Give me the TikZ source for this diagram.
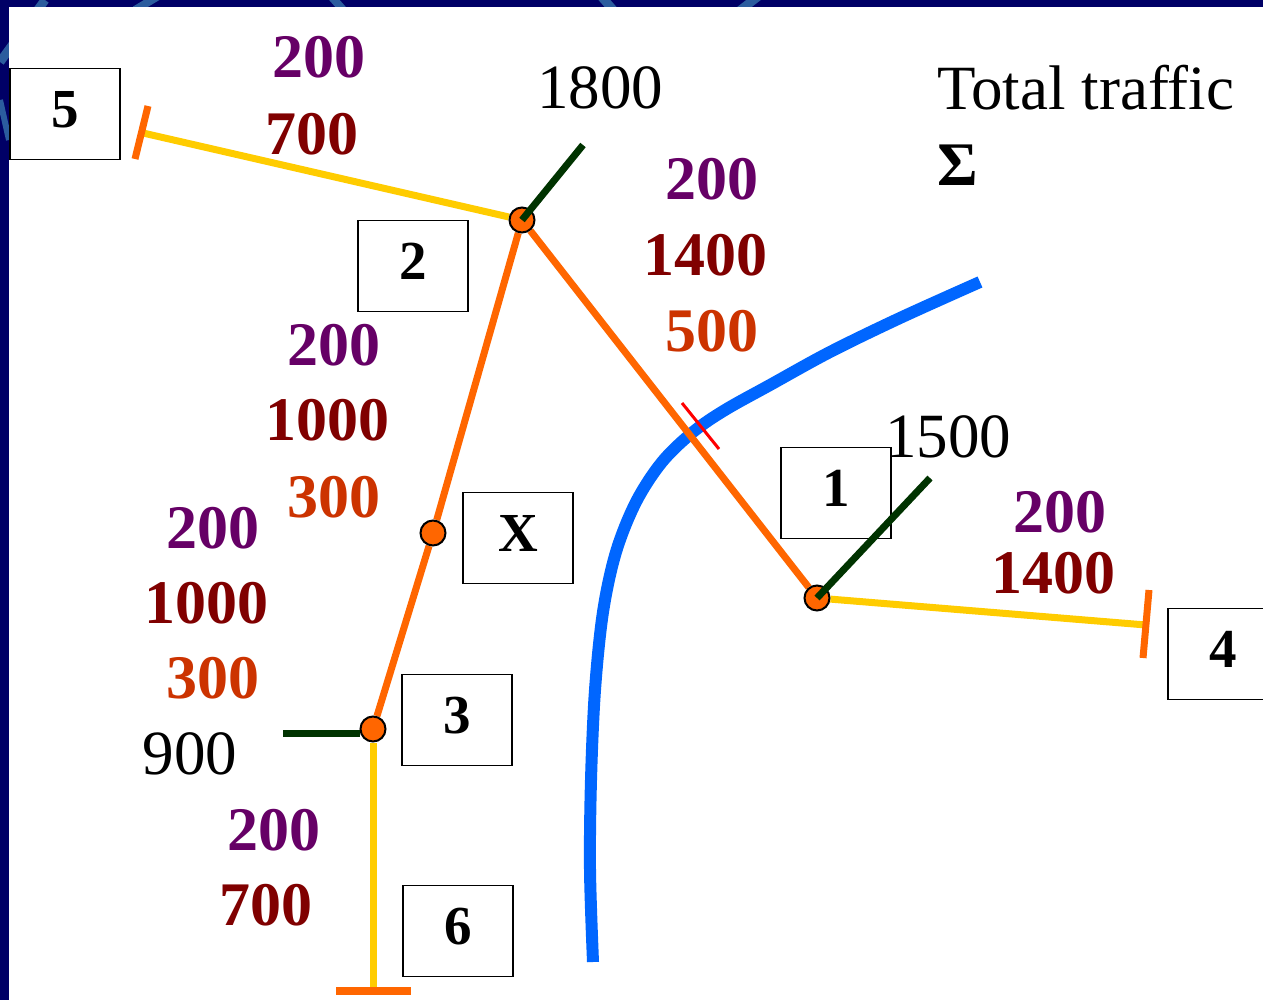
\documentclass[tikz,border=0pt]{standalone}
\usepackage{fontspec}
\setmainfont{Liberation Serif}
\pgfdeclarelayer{frame}
\pgfdeclarelayer{bg}
\pgfsetlayers{frame,bg,main}
\definecolor{navy}{HTML}{000066}
\definecolor{swirl}{HTML}{2B5C9E}
\definecolor{roadorange}{HTML}{FF6600}
\definecolor{roadyellow}{HTML}{FFCC00}
\definecolor{riverblue}{HTML}{0066FF}
\definecolor{feedgreen}{HTML}{003300}
\definecolor{numpurple}{HTML}{660066}
\definecolor{numdarkred}{HTML}{800000}
\definecolor{numorange}{HTML}{CC3300}
\begin{document}
\begin{tikzpicture}[x=1pt,y=-1pt,
  junc/.style={circle,fill=roadorange,draw=black,line width=2,minimum size=25,inner sep=0},
  zonebox/.style={draw=black,line width=1.5,minimum width=110,minimum height=91,inner sep=0,text depth=10pt,font=\fontsize{55}{60}\selectfont\bfseries},
  mainroad/.style={roadorange,line width=7},
  sideroad/.style={roadyellow,line width=7},
  endtick/.style={roadorange,line width=7},
  feeder/.style={feedgreen,line width=7},
  bignum/.style={inner sep=0,font=\fontsize{62}{70}\selectfont\bfseries},
  plainnum/.style={inner sep=0,font=\fontsize{63}{70}\selectfont},
  pnum/.style={bignum,text=numpurple},
  rnum/.style={bignum,text=numdarkred},
  onum/.style={bignum,text=numorange}]
\useasboundingbox (0,0) rectangle (1263,1000);
\clip (0,0) rectangle (1263,1000);

% junctions
\node[junc] (a) at (522,220) {};
\node[junc] (x) at (433,533) {};
\node[junc] (c) at (373,729) {};
\node[junc] (d) at (817,598) {};

% free ends
\coordinate (e5) at (143,133);
\coordinate (e4) at (1146,625);
\coordinate (e6) at (373,990);
\coordinate (g2) at (583,145);
\coordinate (g1) at (930,478);
\coordinate (g3) at (283,733);

% zone boxes
\node[zonebox] (b5) at (65,114) {5};
\node[zonebox] (b2) at (413,266) {2};
\node[zonebox] (bx) at (518,538) {X};
\node[zonebox] (b1) at (836,493) {1};
\node[zonebox] (b4) at (1223,654) {4};
\node[zonebox] (b3) at (457,720) {3};
\node[zonebox] (b6) at (458,931) {6};

\begin{pgfonlayer}{frame}
\fill[navy] (0,0) rectangle (1263,1000);
\begin{scope}
\clip (0,0) rectangle (1263,7) (0,0) rectangle (9,1000);
\draw[swirl,line width=9] (0,62) -- (45,0);
\draw[swirl,line width=8] (135,10) -- (160,-5);
\draw[swirl,line width=8] (330,-5) -- (345,12);
\draw[swirl,line width=9] (600,-5) -- (615,12);
\draw[swirl,line width=9] (760,-5) -- (738,12);
\draw[swirl,line width=6] (0,100) -- (9,140);
\end{scope}
\fill[white] (9,7) rectangle (1263,1000);
\end{pgfonlayer}

\begin{pgfonlayer}{bg}
% river
\draw[riverblue,line width=12] plot[smooth,tension=0.55] coordinates
  {(980,282) (900,318) (830,352) (770,385) (725,410) (693,432) (662,462) (636,502)
   (616,552) (603,612) (595,690) (591,780) (590,870) (593,962)};
% roads
\draw[sideroad] (a) -- (e5);
\draw[mainroad] (a) -- (x);
\draw[mainroad] (x) -- (c);
\draw[mainroad] (a) -- (d);
\draw[sideroad] (d) -- (e4);
\draw[sideroad] (c) -- (e6);
% ticks
\draw[endtick] (148,106) -- (135,159);
\draw[endtick] (1149,590) -- (1143,658);
\draw[roadorange,line width=8] (336,991) -- (411,991);
\draw[red,line width=3] (682,403) -- (719,449);
\end{pgfonlayer}

% feeders
\draw[feeder] (g3) -- (c.west |- g3);
\draw[feeder] (a.center) -- (g2);
\draw[feeder] (d.center) -- (g1);

% labels
\node[pnum] (n1) at (319,57) {200};
\node[rnum] (n2) at (312,134) {700};
\node[plainnum] (n3) at (600,88) {1800};
\node[pnum] (n4) at (712,179) {200};
\node[rnum] (n5) at (705,255) {1400};
\node[onum] (n6) at (712,331) {500};
\node[pnum] (n7) at (334,345) {200};
\node[rnum] (n8) at (327,420) {1000};
\node[onum] (n9) at (334,497) {300};
\node[pnum] (n10) at (213,528) {200};
\node[rnum] (n11) at (206,603) {1000};
\node[onum] (n12) at (213,678) {300};
\node[plainnum] (n13) at (190,754) {900};
\node[pnum] (n14) at (274,830) {200};
\node[rnum] (n15) at (266,905) {700};
\node[plainnum] (n16) at (948,437) {1500};
\node[pnum] (n17) at (1060,512) {200};
\node[rnum] (n18) at (1053,573) {1400};
\node[plainnum,anchor=base west] (tt) at (937,110) {Total traffic};
\node[bignum,anchor=base west] (sig) at (937,186) {Σ};
\end{tikzpicture}
\end{document}
